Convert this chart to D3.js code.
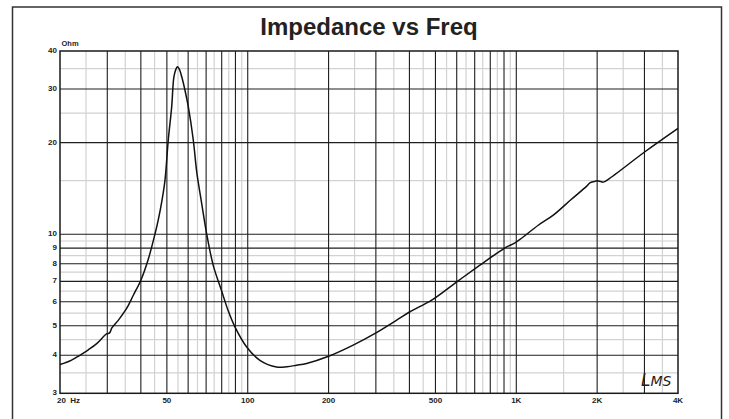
<!DOCTYPE html>
<html>
<head>
<meta charset="utf-8">
<script src="https://cdn.jsdelivr.net/npm/d3@7"></script>
<style>
body { margin: 0; background: #fff; }
text { font-family: Arial, "Liberation Sans", sans-serif; fill: #222; }
</style>
</head>
<body>
<div id="chart"></div>
<script>
// Impedance curve (Hz / Ohm)
var freqs = [20, 22, 23.7, 25.5, 27.4, 29.8, 30.6, 31.2, 33, 35.4, 37.5, 40, 42.6, 45.2, 46.4, 48,
             49.2, 50.6, 52.1, 53.1, 54, 54.7, 55.5, 56.8, 58.5, 60.1, 62.7, 64.6, 67.4, 70.3,
             74.4, 80, 84.6, 89.6, 99.1, 111, 128, 140, 152, 165.7, 200, 247, 298, 358.6, 401.9,
             484, 600, 732, 845, 921, 950, 989, 1032, 1207, 1373, 1600, 1829, 1880, 1950, 2002,
             2060, 2108, 2199, 3013, 4000];
var ohms = [3.73, 3.85, 4.0, 4.17, 4.37, 4.70, 4.74, 4.92, 5.22, 5.70, 6.30, 7.06, 8.26, 10.05, 11.1, 13.0,
            15.06, 20.4, 26.2, 32.9, 34.8, 35.5, 35.0, 32.9, 29.5, 26.2, 20.4, 16.0, 12.6, 10.05,
            7.9, 6.5, 5.6, 4.96, 4.26, 3.85, 3.66, 3.67, 3.71, 3.76, 3.97, 4.32, 4.72, 5.22, 5.56,
            6.07, 6.97, 7.91, 8.65, 9.09, 9.2, 9.37, 9.61, 10.7, 11.55, 13.0, 14.39, 14.75, 14.9, 14.98,
            14.9, 14.83, 15.14, 18.66, 22.27];

// Tick labels
var xTicks = [20, 50, 100, 200, 500, 1000, 2000, 4000],
    xTickLabels = ['20  Hz', '50', '100', '200', '500', '1K', '2K', '4K'],
    yTicks = [3, 4, 5, 6, 7, 8, 9, 10, 20, 30, 40],
    yTickLabels = ['3', '4', '5', '6', '7', '8', '9', '10', '20', '30', '40'];

// Grid lines
var xMajor = [30, 40, 50, 60, 70, 80, 90, 100, 200, 300, 400, 500, 600, 700, 800, 900, 1000, 2000, 3000],
    xMinor = [25, 35, 45, 55, 65, 75, 85, 95, 150, 250, 350, 450, 550, 650, 750, 850, 950, 1500, 2500, 3500],
    yMajor = [4, 5, 6, 7, 8, 9, 10, 20, 30],
    yMinor = [3.5, 4.5, 5.5, 6.5, 7.5, 8.5, 9.5, 15, 25, 35];

var width = 729,
    height = 419,
    plotLeft = 60,
    plotRight = 678,
    plotTop = 51,
    plotBottom = 393.3;

var x = d3.scaleLog().domain([20, 4000]).range([plotLeft, plotRight]),
    y = d3.scaleLog().domain([3, 40]).range([plotBottom, plotTop]);

var svg = d3.select('#chart').append('svg')
    .attr('width', width)
    .attr('height', height);

// outer frame (bottom edge runs off the picture)
svg.append('rect')
    .attr('x', 12.5).attr('y', 7)
    .attr('width', 709).attr('height', 420)
    .attr('fill', 'none')
    .attr('stroke', '#333')
    .attr('stroke-width', 1.5);

svg.append('text')
    .attr('x', (plotLeft + plotRight) / 2)
    .attr('y', 34.5)
    .attr('text-anchor', 'middle')
    .style('font-size', '24px')
    .style('font-weight', 'bold')
    .text('Impedance vs Freq');

var grid = svg.append('g');

function vLines(vals, color, w) {
    grid.selectAll(null).data(vals).enter()
        .append('line')
        .attr('x1', function(d) { return x(d); })
        .attr('x2', function(d) { return x(d); })
        .attr('y1', plotTop).attr('y2', plotBottom)
        .attr('stroke', color).attr('stroke-width', w);
}
function hLines(vals, color, w) {
    grid.selectAll(null).data(vals).enter()
        .append('line')
        .attr('y1', function(d) { return y(d); })
        .attr('y2', function(d) { return y(d); })
        .attr('x1', plotLeft).attr('x2', plotRight)
        .attr('stroke', color).attr('stroke-width', w);
}

vLines(xMinor, '#d2d2d2', 1.2);
hLines(yMinor, '#d2d2d2', 1.2);
vLines(xMajor, '#1e1e1e', 1.1);
hLines(yMajor, '#1e1e1e', 1.1);

// plot border
svg.append('rect')
    .attr('x', plotLeft).attr('y', plotTop)
    .attr('width', plotRight - plotLeft)
    .attr('height', plotBottom - plotTop)
    .attr('fill', 'none')
    .attr('stroke', '#1a1a1a')
    .attr('stroke-width', 1.5);

// the curve
var line = d3.line()
    .x(function(d) { return x(d[0]); })
    .y(function(d) { return y(d[1]); })
    .curve(d3.curveCatmullRom.alpha(0.5));

svg.append('path')
    .datum(d3.zip(freqs, ohms))
    .attr('d', line)
    .attr('fill', 'none')
    .attr('stroke', '#111')
    .attr('stroke-width', 1.5)
    .attr('stroke-linejoin', 'round');

// y labels
svg.selectAll('.ylab').data(yTicks).enter()
    .append('text')
    .attr('class', 'ylab')
    .attr('x', 57)
    .attr('y', function(d) { return y(d) + 2; })
    .attr('text-anchor', 'end')
    .style('font-size', '8px')
    .style('font-weight', 'bold')
    .text(function(d, i) { return yTickLabels[i]; });

svg.append('text')
    .attr('x', 61.5).attr('y', 45.5)
    .style('font-size', '7.5px')
    .style('font-weight', 'bold')
    .text('Ohm');

// x labels; the first one starts at the axis
svg.selectAll('.xlab').data(xTicks).enter()
    .append('text')
    .attr('class', 'xlab')
    .attr('x', function(d, i) { return i === 0 ? 57 : x(d); })
    .attr('y', 403)
    .attr('text-anchor', function(d, i) { return i === 0 ? 'start' : 'middle'; })
    .style('font-size', '8px')
    .style('font-weight', 'bold')
    .style('white-space', 'pre')
    .text(function(d, i) { return xTickLabels[i]; });

// LMS signature
var sig = svg.append('text')
    .attr('x', 641).attr('y', 386)
    .style('font-family', '"DejaVu Sans"')
    .style('font-style', 'italic')
    .style('font-weight', '200');
sig.append('tspan').style('font-size', '17px').text('L');
sig.append('tspan').style('font-size', '14px').text('MS');
</script>
</body>
</html>
